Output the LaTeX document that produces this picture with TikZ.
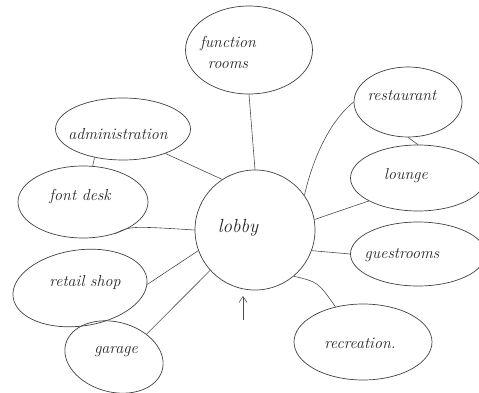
\documentclass[tikz,border=0pt]{standalone}
\usetikzlibrary{shapes.geometric,arrows.meta}
\begin{document}
\begin{tikzpicture}[x=1pt,y=-1pt,
  bubble/.style={draw=black!75, line width=0.7pt, ellipse, inner sep=0pt},
  lbl/.style={font=\fontsize{16}{18}\selectfont\itshape, text=black!85},
  link/.style={draw=black!70, line width=0.6pt}]
\useasboundingbox (0,0) rectangle (479,393);
% bubbles
\node[bubble, circle, minimum size=120] (lobby) at (255,230) {};
\node[lbl, font=\fontsize{19}{21}\selectfont\itshape] (lobbyt) at (238,228) {lobby};
\node[bubble, minimum width=127, minimum height=88] (fr) at (249,50) {};
\node[lbl, align=center] (frt) at (228,52) {function\\[3pt]rooms};
\node[bubble, minimum width=108, minimum height=70] (rest) at (408,102) {};
\node[lbl] (restt) at (402,96) {restaurant};
\node[bubble, minimum width=135, minimum height=66] (lounge) at (418,178) {};
\node[lbl] (loungt) at (406,176) {lounge};
\node[bubble, minimum width=135, minimum height=64] (guest) at (418,254) {};
\node[lbl] (guestt) at (402,255) {guestrooms};
\node[bubble, minimum width=138, minimum height=76] (rec) at (363,342) {};
\node[lbl] (rect) at (360,343) {recreation.};
\node[bubble, minimum width=135, minimum height=62] (adm) at (123,129) {};
\node[lbl] (admt) at (118,134) {administration};
\node[bubble, minimum width=130, minimum height=72] (fd) at (83,202) {};
\node[lbl] (fdt) at (80,196) {font desk};
\node[bubble, minimum width=135, minimum height=76, rotate=8] (rs) at (80,288) {};
\node[lbl] (rst) at (85,282) {retail shop};
\node[bubble, minimum width=100, minimum height=70, rotate=-15] (gar) at (114,357) {};
\node[lbl] (gart) at (116,352) {garage};
% connectors
\draw[link] (fr.south) -- (lobby.north);
\draw[link] (adm.-30) -- (lobby.123);
\draw[link] (adm.225) -- (fd.75);
\draw[link] (fd.-45) .. controls (130,226) .. (lobby.180);
\draw[link] (rs.-5) -- (lobby.200);
\draw[link] (gar.50) -- (lobby.222);
\draw[link] (rest.west) .. controls (325,125) and (310,170) .. (lobby.35);
\draw[link] (rest.south) -- (lounge.north);
\draw[link] (lounge.205) -- (lobby.10);
\draw[link] (guest.west) -- (lobby.-20);
\draw[link] (rec.128) .. controls (318,282) .. (lobby.-50);
\coordinate (arrS) at (243,320);
\coordinate (arrE) at (243,296);
\draw[link, -{Straight Barb[length=6pt,width=8pt]}] (arrS) -- (arrE);
\end{tikzpicture}
\end{document}
